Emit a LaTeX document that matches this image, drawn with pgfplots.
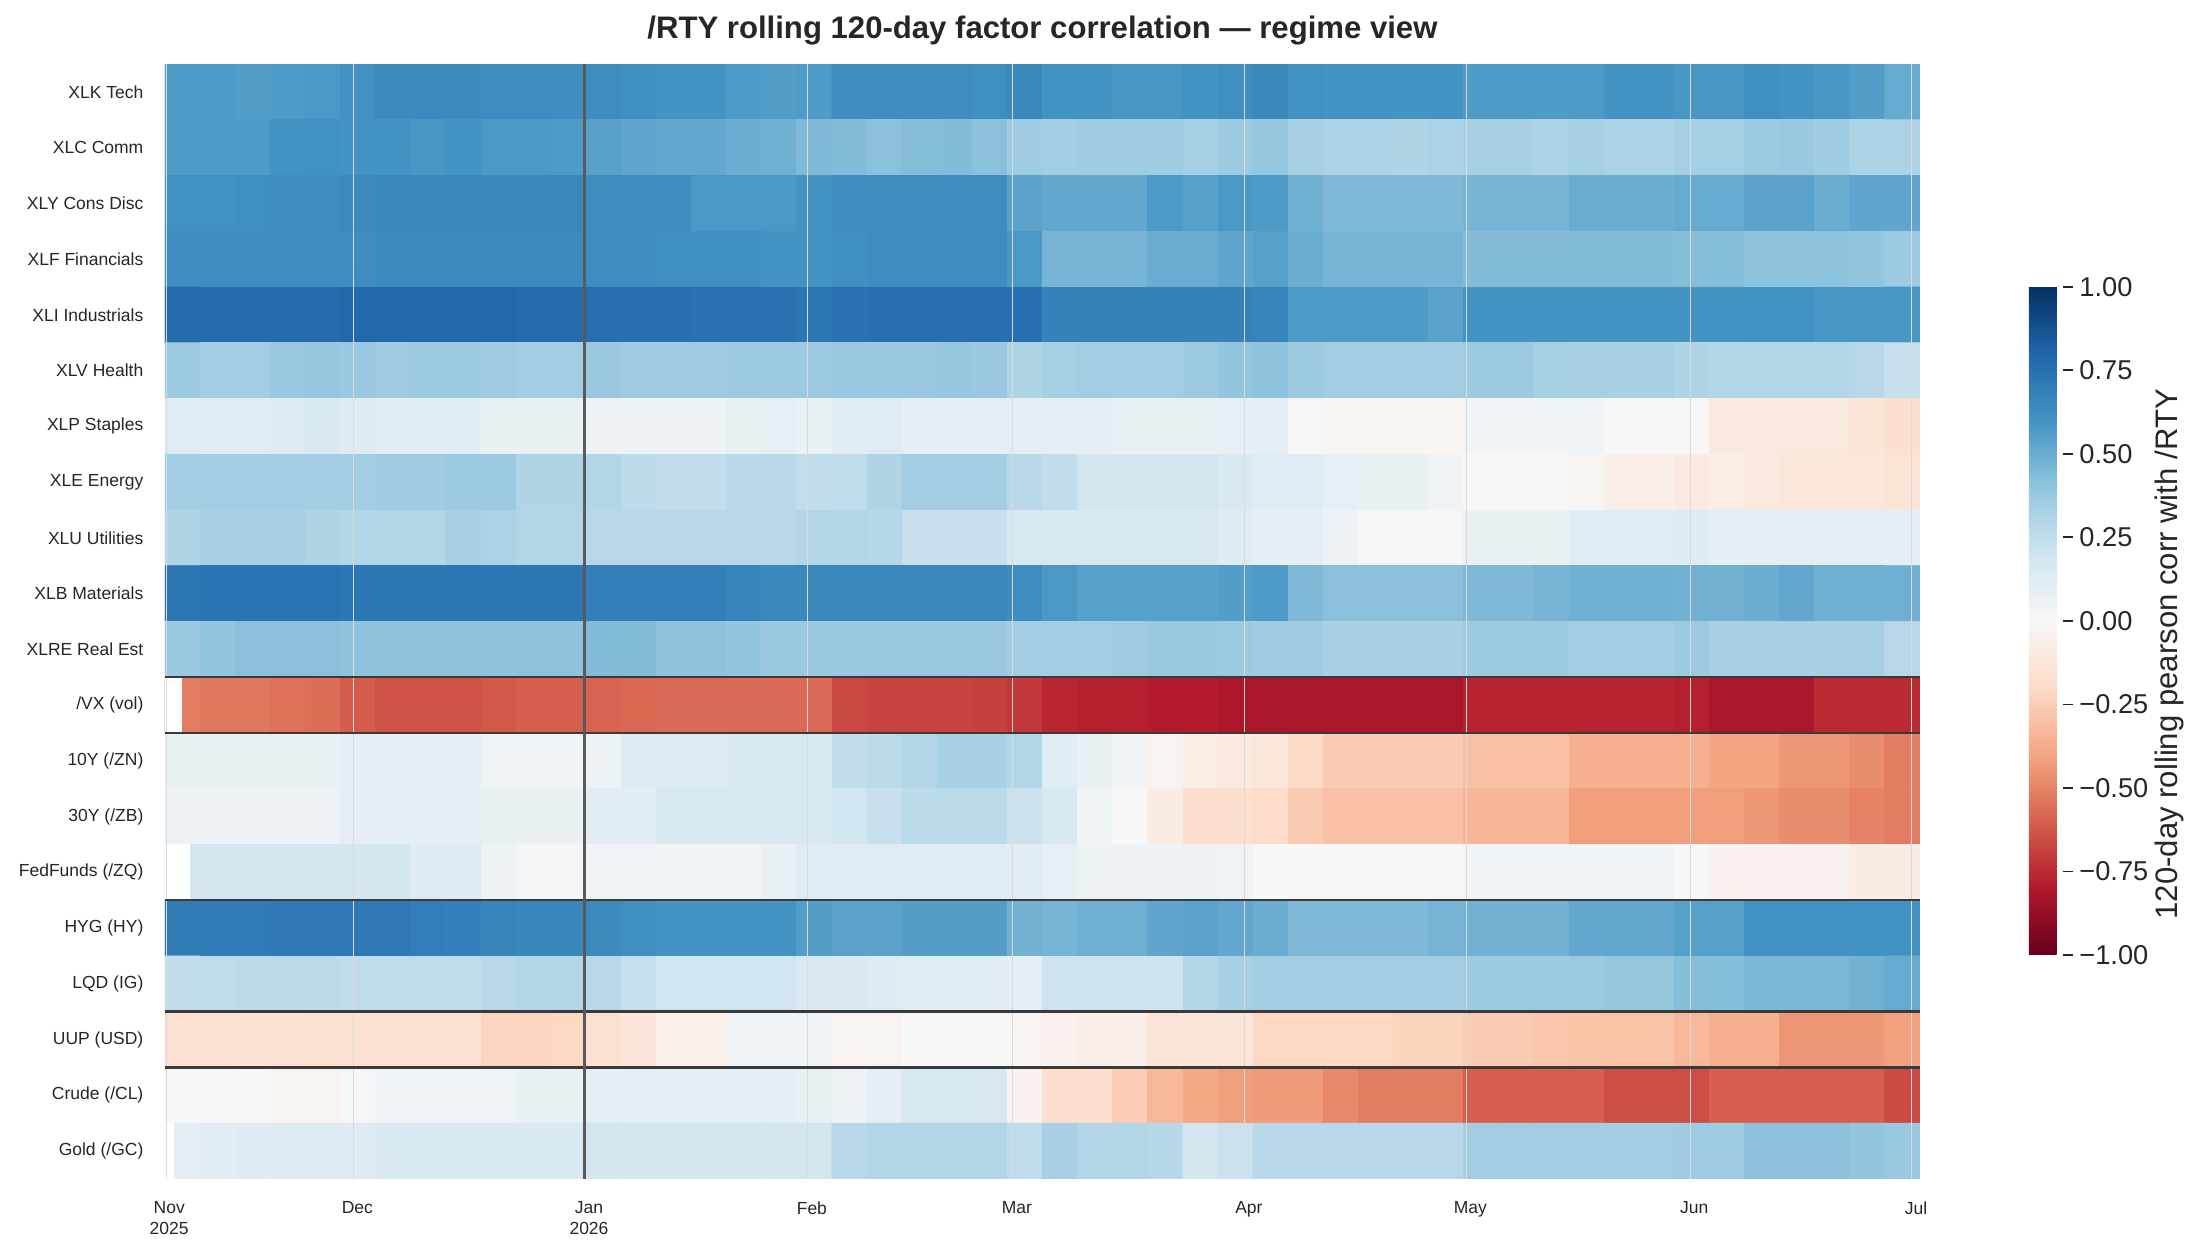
\documentclass[border=0pt]{standalone}
\usepackage{fontspec}
\setmainfont{Liberation Sans}
\usepackage{pgfplots}
\pgfplotsset{compat=1.18}

\definecolor{txt}{HTML}{262626}
\definecolor{monthline}{HTML}{DADADA}
\definecolor{yearline}{HTML}{5A5A5A}
\definecolor{groupline}{HTML}{3A3A3A}

\pgfplotsset{
  colormap={RdBu}{rgb255=(103,0,31) rgb255=(178,24,43) rgb255=(214,96,77)
    rgb255=(244,165,130) rgb255=(253,219,199) rgb255=(247,247,247)
    rgb255=(209,229,240) rgb255=(146,197,222) rgb255=(67,147,195)
    rgb255=(33,102,172) rgb255=(5,48,97)}
}

\begin{document}
\begin{tikzpicture}
\useasboundingbox (0,0) rectangle (1128.4pt,644.9pt);
\begin{axis}[
  at={(84.86pt,38.57pt)}, anchor=south west,
  scale only axis, width=902.6pt, height=573.4pt,
  xmin=0, xmax=50, ymin=-0.5, ymax=19.5, y dir=reverse,
  enlargelimits=false,
  axis line style={draw=none},
  major tick length=0pt,
  tick style={draw=none},
  colormap name=RdBu,
  point meta min=-1, point meta max=1,
  xtick={0.12,5.48,12.08,18.43,24.27,30.88,37.19,43.57,49.89},
  xticklabels={{Nov\\2025},Dec,{Jan\\2026},Feb,Mar,Apr,May,Jun,Jul},
  xticklabel style={align=center, font=\fontsize{9}{10.5}\selectfont, text=txt, anchor=north, yshift=-8.3pt},
  ytick={0,1,...,19},
  yticklabels={XLK Tech,XLC Comm,XLY Cons Disc,XLF Financials,XLI Industrials,XLV Health,XLP Staples,XLE Energy,XLU Utilities,XLB Materials,XLRE Real Est,/VX (vol),10Y (/ZN),30Y (/ZB),FedFunds (/ZQ),HYG (HY),LQD (IG),UUP (USD),Crude (/CL),Gold (/GC)},
  yticklabel style={font=\fontsize{9}{10.5}\selectfont, text=txt, anchor=east, xshift=-7.6pt},
  title={/RTY rolling 120-day factor correlation — regime view},
  title style={at={(axis description cs:0.5,1)}, anchor=base, yshift=7.2pt, font=\bfseries\fontsize{16}{19}\selectfont, text=txt},
  colorbar,
  colorbar style={
    at={(parent axis.south east)}, anchor=south west,
    xshift=47.46pt, yshift=115.2pt,
    scale only axis, width=17.49pt, height=343.6pt,
    axis line style={draw=none},
    ytick={-1,-0.75,-0.5,-0.25,0,0.25,0.5,0.75,1},
    yticklabels={−1.00,−0.75,−0.50,−0.25,0.00,0.25,0.50,0.75,1.00},
    yticklabel style={font=\fontsize{14}{17}\selectfont, text=txt},
    yticklabel pos=right,
    ytick pos=right,
    tick align=outside,
    major tick length=5pt,
    tick style={draw=txt, line width=0.9pt},
    ylabel={120-day rolling pearson corr with /RTY},
    every axis y label/.style={at={(axis description cs:4.12,0.45)}, rotate=90, anchor=center, font=\fontsize{16}{19}\selectfont, text=txt},
  },
]

% rolling correlation, one line per factor, 50 time blocks each
\addplot[matrix plot, mesh/cols=50, mesh/rows=20, point meta=explicit]
  table[header=false, row sep=\\, x expr={mod(\coordindex,50)+0.5}, y expr={floor((\coordindex+0.5)/50)}, meta index=0] {
0.57\\0.57\\0.56\\0.57\\0.58\\0.61\\0.64\\0.64\\0.64\\0.63\\0.63\\0.63\\0.63\\0.62\\0.60\\0.60\\0.57\\0.56\\0.57\\0.63\\0.63\\0.63\\0.63\\0.62\\0.65\\0.60\\0.60\\0.59\\0.59\\0.60\\0.62\\0.65\\0.61\\0.60\\0.60\\0.60\\0.60\\0.57\\0.57\\0.57\\0.57\\0.60\\0.60\\0.59\\0.59\\0.62\\0.60\\0.59\\0.56\\0.51\\
0.57\\0.57\\0.57\\0.60\\0.61\\0.60\\0.60\\0.59\\0.60\\0.58\\0.58\\0.57\\0.55\\0.53\\0.52\\0.52\\0.50\\0.49\\0.45\\0.44\\0.42\\0.43\\0.44\\0.42\\0.36\\0.35\\0.36\\0.36\\0.36\\0.34\\0.37\\0.39\\0.33\\0.32\\0.32\\0.31\\0.32\\0.33\\0.33\\0.32\\0.33\\0.32\\0.32\\0.34\\0.34\\0.37\\0.38\\0.36\\0.32\\0.32\\
0.61\\0.61\\0.62\\0.63\\0.63\\0.64\\0.65\\0.65\\0.65\\0.65\\0.65\\0.65\\0.63\\0.63\\0.63\\0.58\\0.58\\0.58\\0.60\\0.63\\0.63\\0.63\\0.63\\0.63\\0.54\\0.52\\0.52\\0.52\\0.57\\0.55\\0.58\\0.57\\0.49\\0.45\\0.45\\0.45\\0.45\\0.47\\0.47\\0.47\\0.50\\0.50\\0.50\\0.51\\0.51\\0.54\\0.54\\0.50\\0.53\\0.53\\
0.63\\0.63\\0.63\\0.63\\0.63\\0.63\\0.64\\0.64\\0.64\\0.64\\0.64\\0.64\\0.63\\0.63\\0.62\\0.62\\0.62\\0.60\\0.60\\0.62\\0.63\\0.63\\0.63\\0.63\\0.58\\0.47\\0.47\\0.47\\0.50\\0.50\\0.53\\0.55\\0.50\\0.47\\0.47\\0.47\\0.47\\0.44\\0.44\\0.44\\0.44\\0.44\\0.44\\0.43\\0.43\\0.41\\0.41\\0.41\\0.40\\0.37\\
0.78\\0.78\\0.78\\0.78\\0.78\\0.79\\0.79\\0.79\\0.79\\0.79\\0.78\\0.78\\0.76\\0.76\\0.76\\0.75\\0.75\\0.75\\0.73\\0.75\\0.76\\0.76\\0.76\\0.76\\0.76\\0.68\\0.68\\0.68\\0.68\\0.68\\0.68\\0.67\\0.57\\0.57\\0.57\\0.57\\0.54\\0.60\\0.60\\0.60\\0.60\\0.60\\0.60\\0.60\\0.60\\0.61\\0.61\\0.59\\0.59\\0.59\\
0.37\\0.35\\0.35\\0.38\\0.39\\0.38\\0.36\\0.37\\0.37\\0.36\\0.35\\0.35\\0.38\\0.36\\0.36\\0.36\\0.37\\0.37\\0.37\\0.38\\0.38\\0.38\\0.39\\0.38\\0.31\\0.34\\0.35\\0.35\\0.35\\0.37\\0.40\\0.41\\0.37\\0.35\\0.35\\0.35\\0.35\\0.37\\0.37\\0.34\\0.33\\0.33\\0.33\\0.31\\0.30\\0.30\\0.30\\0.30\\0.28\\0.23\\
0.12\\0.12\\0.12\\0.14\\0.16\\0.13\\0.11\\0.11\\0.11\\0.08\\0.07\\0.07\\0.06\\0.06\\0.06\\0.06\\0.08\\0.09\\0.07\\0.11\\0.12\\0.10\\0.10\\0.10\\0.10\\0.10\\0.10\\0.08\\0.08\\0.08\\0.09\\0.10\\0.01\\-0.02\\-0.02\\-0.02\\-0.02\\0.03\\0.03\\0.03\\0.03\\0.00\\0.00\\-0.01\\-0.10\\-0.10\\-0.10\\-0.10\\-0.13\\-0.17\\
0.35\\0.35\\0.35\\0.35\\0.35\\0.35\\0.36\\0.36\\0.37\\0.37\\0.31\\0.31\\0.30\\0.27\\0.25\\0.25\\0.28\\0.28\\0.25\\0.26\\0.31\\0.35\\0.35\\0.35\\0.28\\0.25\\0.19\\0.19\\0.19\\0.19\\0.16\\0.12\\0.12\\0.09\\0.07\\0.07\\0.04\\0.00\\0.00\\0.00\\-0.02\\-0.06\\-0.06\\-0.09\\-0.07\\-0.10\\-0.12\\-0.12\\-0.12\\-0.14\\
0.31\\0.33\\0.33\\0.33\\0.31\\0.30\\0.30\\0.30\\0.33\\0.32\\0.30\\0.30\\0.28\\0.28\\0.28\\0.28\\0.28\\0.28\\0.30\\0.30\\0.29\\0.23\\0.23\\0.23\\0.17\\0.17\\0.17\\0.17\\0.17\\0.17\\0.13\\0.10\\0.10\\0.06\\0.01\\0.01\\0.01\\0.07\\0.07\\0.07\\0.12\\0.12\\0.12\\0.13\\0.10\\0.10\\0.10\\0.10\\0.10\\0.10\\
0.73\\0.74\\0.74\\0.74\\0.74\\0.73\\0.73\\0.73\\0.73\\0.73\\0.73\\0.73\\0.69\\0.69\\0.69\\0.69\\0.67\\0.65\\0.65\\0.65\\0.65\\0.65\\0.65\\0.65\\0.63\\0.58\\0.55\\0.55\\0.55\\0.55\\0.56\\0.57\\0.45\\0.42\\0.42\\0.42\\0.42\\0.45\\0.45\\0.47\\0.49\\0.49\\0.49\\0.48\\0.48\\0.50\\0.52\\0.49\\0.49\\0.49\\
0.38\\0.40\\0.42\\0.42\\0.42\\0.41\\0.41\\0.41\\0.41\\0.41\\0.41\\0.41\\0.44\\0.44\\0.41\\0.41\\0.40\\0.38\\0.38\\0.38\\0.38\\0.38\\0.38\\0.38\\0.35\\0.35\\0.35\\0.36\\0.38\\0.38\\0.37\\0.36\\0.36\\0.33\\0.33\\0.33\\0.33\\0.37\\0.37\\0.37\\0.35\\0.35\\0.35\\0.37\\0.33\\0.33\\0.33\\0.33\\0.33\\0.28\\
-0.52\\-0.53\\-0.53\\-0.55\\-0.56\\-0.61\\-0.64\\-0.64\\-0.64\\-0.62\\-0.60\\-0.60\\-0.59\\-0.58\\-0.57\\-0.57\\-0.57\\-0.57\\-0.57\\-0.67\\-0.68\\-0.68\\-0.68\\-0.69\\-0.71\\-0.76\\-0.78\\-0.78\\-0.79\\-0.79\\-0.81\\-0.82\\-0.82\\-0.82\\-0.82\\-0.82\\-0.82\\-0.77\\-0.77\\-0.77\\-0.77\\-0.77\\-0.77\\-0.78\\-0.82\\-0.82\\-0.82\\-0.75\\-0.75\\-0.75\\
0.07\\0.07\\0.07\\0.07\\0.07\\0.10\\0.10\\0.10\\0.10\\0.04\\0.03\\0.03\\0.06\\0.14\\0.14\\0.14\\0.16\\0.17\\0.17\\0.25\\0.27\\0.30\\0.33\\0.33\\0.30\\0.12\\0.08\\0.03\\-0.03\\-0.07\\-0.09\\-0.12\\-0.20\\-0.26\\-0.26\\-0.26\\-0.26\\-0.30\\-0.30\\-0.30\\-0.36\\-0.36\\-0.36\\-0.36\\-0.40\\-0.40\\-0.44\\-0.44\\-0.47\\-0.52\\
0.06\\0.06\\0.06\\0.06\\0.06\\0.10\\0.10\\0.10\\0.10\\0.08\\0.07\\0.07\\0.11\\0.11\\0.17\\0.17\\0.17\\0.17\\0.17\\0.20\\0.23\\0.27\\0.27\\0.27\\0.22\\0.17\\0.05\\0.00\\-0.08\\-0.17\\-0.17\\-0.19\\-0.26\\-0.30\\-0.30\\-0.30\\-0.30\\-0.34\\-0.34\\-0.34\\-0.42\\-0.42\\-0.42\\-0.42\\-0.42\\-0.44\\-0.47\\-0.47\\-0.50\\-0.52\\
0.19\\0.19\\0.19\\0.19\\0.19\\0.19\\0.19\\0.13\\0.13\\0.06\\0.02\\0.02\\0.03\\0.03\\0.03\\0.03\\0.03\\0.08\\0.12\\0.12\\0.12\\0.12\\0.12\\0.12\\0.11\\0.09\\0.06\\0.06\\0.06\\0.06\\0.04\\0.00\\0.00\\0.00\\0.00\\0.00\\0.00\\0.03\\0.03\\0.03\\0.03\\0.03\\0.03\\0.00\\-0.04\\-0.04\\-0.04\\-0.04\\-0.08\\-0.08\\
0.71\\0.71\\0.71\\0.72\\0.72\\0.72\\0.72\\0.70\\0.69\\0.67\\0.66\\0.66\\0.64\\0.62\\0.60\\0.60\\0.60\\0.60\\0.56\\0.54\\0.54\\0.56\\0.56\\0.56\\0.48\\0.47\\0.49\\0.49\\0.53\\0.54\\0.52\\0.50\\0.45\\0.45\\0.45\\0.45\\0.47\\0.48\\0.48\\0.48\\0.52\\0.52\\0.52\\0.55\\0.55\\0.61\\0.61\\0.61\\0.61\\0.61\\
0.25\\0.26\\0.27\\0.27\\0.27\\0.26\\0.26\\0.26\\0.26\\0.28\\0.30\\0.30\\0.28\\0.24\\0.20\\0.20\\0.20\\0.20\\0.15\\0.15\\0.13\\0.11\\0.11\\0.11\\0.10\\0.21\\0.21\\0.21\\0.21\\0.30\\0.33\\0.35\\0.35\\0.35\\0.35\\0.35\\0.35\\0.37\\0.37\\0.37\\0.37\\0.39\\0.39\\0.43\\0.43\\0.46\\0.46\\0.46\\0.48\\0.51\\
-0.16\\-0.16\\-0.15\\-0.15\\-0.16\\-0.16\\-0.16\\-0.16\\-0.16\\-0.22\\-0.22\\-0.21\\-0.16\\-0.13\\-0.05\\-0.05\\0.03\\0.03\\0.03\\-0.03\\-0.03\\0.00\\0.00\\0.00\\-0.02\\-0.04\\-0.06\\-0.06\\-0.13\\-0.13\\-0.13\\-0.21\\-0.21\\-0.21\\-0.21\\-0.23\\-0.23\\-0.26\\-0.26\\-0.28\\-0.29\\-0.29\\-0.29\\-0.33\\-0.36\\-0.36\\-0.44\\-0.44\\-0.44\\-0.41\\
0.00\\0.00\\0.00\\-0.02\\-0.03\\0.01\\0.03\\0.03\\0.03\\0.05\\0.07\\0.07\\0.10\\0.10\\0.10\\0.10\\0.10\\0.10\\0.08\\0.06\\0.10\\0.17\\0.17\\0.17\\-0.04\\-0.17\\-0.17\\-0.25\\-0.33\\-0.39\\-0.42\\-0.43\\-0.43\\-0.48\\-0.52\\-0.52\\-0.52\\-0.60\\-0.60\\-0.60\\-0.60\\-0.65\\-0.65\\-0.65\\-0.60\\-0.60\\-0.60\\-0.60\\-0.60\\-0.66\\
0.10\\0.11\\0.13\\0.13\\0.13\\0.13\\0.16\\0.16\\0.16\\0.16\\0.16\\0.16\\0.19\\0.19\\0.19\\0.19\\0.19\\0.19\\0.19\\0.28\\0.30\\0.30\\0.30\\0.30\\0.26\\0.33\\0.30\\0.30\\0.29\\0.19\\0.22\\0.28\\0.28\\0.28\\0.28\\0.28\\0.28\\0.35\\0.35\\0.35\\0.35\\0.35\\0.35\\0.36\\0.36\\0.42\\0.42\\0.42\\0.40\\0.38\\
};

% days before each series has a full 120-day window (no value)
\addplot[draw=none, fill=white] coordinates {(0,10.5) (0.48,10.5) (0.48,11.5) (0,11.5)} -- cycle;
\addplot[draw=none, fill=white] coordinates {(0,13.5) (0.72,13.5) (0.72,14.5) (0,14.5)} -- cycle;
\addplot[draw=none, fill=white] coordinates {(0,18.5) (0.25,18.5) (0.25,19.5) (0,19.5)} -- cycle;

% month boundaries
\draw[monthline, line width=0.5pt] (axis cs:0.03,-0.5) -- (axis cs:0.03,19.5);
\draw[monthline, line width=0.5pt] (axis cs:5.36,-0.5) -- (axis cs:5.36,19.5);
\draw[monthline, line width=0.5pt] (axis cs:18.31,-0.5) -- (axis cs:18.31,19.5);
\draw[monthline, line width=0.5pt] (axis cs:24.15,-0.5) -- (axis cs:24.15,19.5);
\draw[monthline, line width=0.5pt] (axis cs:30.76,-0.5) -- (axis cs:30.76,19.5);
\draw[monthline, line width=0.5pt] (axis cs:37.07,-0.5) -- (axis cs:37.07,19.5);
\draw[monthline, line width=0.5pt] (axis cs:43.45,-0.5) -- (axis cs:43.45,19.5);
\draw[monthline, line width=0.5pt] (axis cs:49.77,-0.5) -- (axis cs:49.77,19.5);

% factor group separators
\draw[groupline, line width=1.3pt] (axis cs:0,10.5) -- (axis cs:50,10.5);
\draw[groupline, line width=1.3pt] (axis cs:0,11.5) -- (axis cs:50,11.5);
\draw[groupline, line width=1.3pt] (axis cs:0,14.5) -- (axis cs:50,14.5);
\draw[groupline, line width=1.3pt] (axis cs:0,16.5) -- (axis cs:50,16.5);
\draw[groupline, line width=1.3pt] (axis cs:0,17.5) -- (axis cs:50,17.5);

% year boundary
\draw[yearline, line width=1.4pt] (axis cs:11.96,-0.5) -- (axis cs:11.96,19.5);
\end{axis}
\end{tikzpicture}
\end{document}
